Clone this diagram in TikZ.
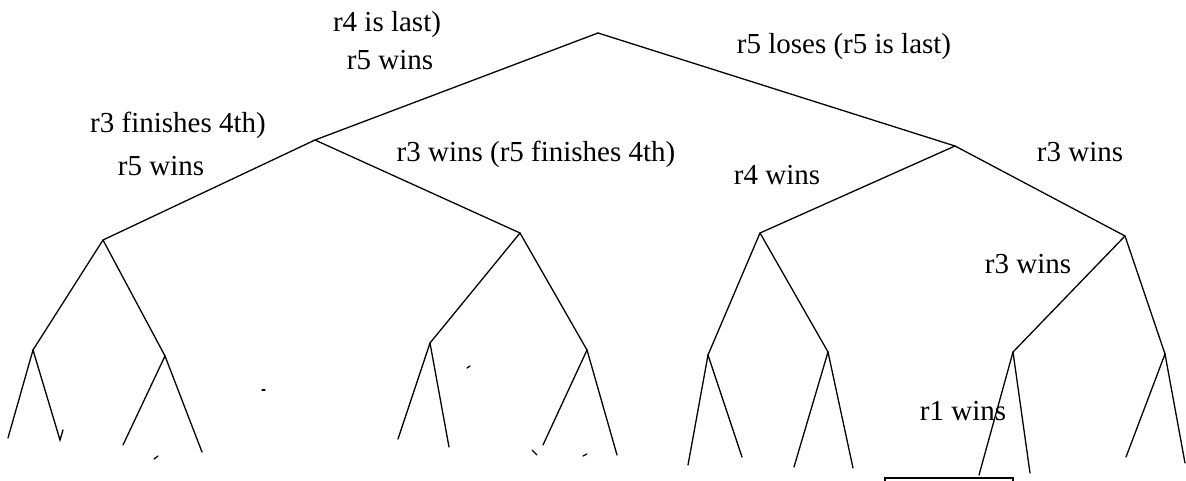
\documentclass[tikz,border=0pt]{standalone}
\usepackage{fontspec}
\setmainfont{Liberation Serif}
\begin{document}
\begin{tikzpicture}[x=1pt,y=-1pt,
  edge/.style={line width=1.3pt, line cap=round},
  lbl/.style={font=\fontsize{29}{33}\selectfont, inner sep=0pt, anchor=base}]
\useasboundingbox (0,0) rectangle (1186,481);
% tree nodes
\coordinate (root) at (598,33);
\coordinate (L) at (315,140);
\coordinate (R) at (955,146);
\coordinate (LL) at (103,240);
\coordinate (LR) at (520,233);
\coordinate (RL) at (760,233);
\coordinate (RR) at (1125,236);
\coordinate (LLL) at (33,350);
\coordinate (LLR) at (165,356);
\coordinate (LRL) at (430,343);
\coordinate (LRR) at (587,350);
\coordinate (RLL) at (708,355);
\coordinate (RLR) at (828,352);
\coordinate (RRL) at (1013,352);
\coordinate (RRR) at (1165,354);
% leaves
\coordinate (a1) at (8,438);   \coordinate (a2) at (60,440);
\coordinate (b1) at (123,445); \coordinate (b2) at (202,452);
\coordinate (c1) at (398,439); \coordinate (c2) at (449,447);
\coordinate (d1) at (543,445); \coordinate (d2) at (617,455);
\coordinate (e1) at (688,465); \coordinate (e2) at (742,457);
\coordinate (f1) at (794,467); \coordinate (f2) at (853,468);
\coordinate (g1) at (979,475); \coordinate (g2) at (1030,473);
\coordinate (h1) at (1126,457);\coordinate (h2) at (1185,463);
% edges
\draw[edge] (root) -- (L);
\draw[edge] (root) -- (R);
\draw[edge] (L) -- (LL);
\draw[edge] (L) -- (LR);
\draw[edge] (R) -- (RL);
\draw[edge] (R) -- (RR);
\draw[edge] (LL) -- (LLL);
\draw[edge] (LL) -- (LLR);
\draw[edge] (LR) -- (LRL);
\draw[edge] (LR) -- (LRR);
\draw[edge] (RL) -- (RLL);
\draw[edge] (RL) -- (RLR);
\draw[edge] (RR) -- (RRL);
\draw[edge] (RR) -- (RRR);
\draw[edge] (LLL) -- (a1);
\draw[edge] (LLL) -- (a2) -- ++(3,-10);
\draw[edge] (LLR) -- (b1);
\draw[edge] (LLR) -- (b2);
\draw[edge] (LRL) -- (c1);
\draw[edge] (LRL) -- (c2);
\draw[edge] (LRR) -- (d1);
\draw[edge] (LRR) -- (d2);
\draw[edge] (RLL) -- (e1);
\draw[edge] (RLL) -- (e2);
\draw[edge] (RLR) -- (f1);
\draw[edge] (RLR) -- (f2);
\draw[edge] (RRL) -- (g1);
\draw[edge] (RRL) -- (g2);
\draw[edge] (RRR) -- (h1);
\draw[edge] (RRR) -- (h2);
% stray marks
\draw[edge] (262,390) -- (265,390);
\draw[edge] (154,459) -- (158,456);
\draw[edge] (467,368) -- (470,366);
\draw[edge] (532,450) -- (537,455);
\draw[edge] (583,456) -- (587,454);
% box at bottom
\draw[line width=1.3pt] (885,490) -- (885,478) -- (1013,478) -- (1013,490);
% labels
\node[lbl] (t1) at (387,32) {r4 is last)};
\node[lbl] (t2) at (390,70) {r5 wins};
\node[lbl] (t3) at (844,54) {r5 loses (r5 is last)};
\node[lbl] (t4) at (178,133) {r3 finishes 4th)};
\node[lbl] (t5) at (161,176) {r5 wins};
\node[lbl] (t6) at (536,162) {r3 wins (r5 finishes 4th)};
\node[lbl] (t7) at (777,185) {r4 wins};
\node[lbl] (t8) at (1080,162) {r3 wins};
\node[lbl] (t9) at (1028,273) {r3 wins};
\node[lbl] (t10) at (963,420) {r1 wins};
\end{tikzpicture}
\end{document}
